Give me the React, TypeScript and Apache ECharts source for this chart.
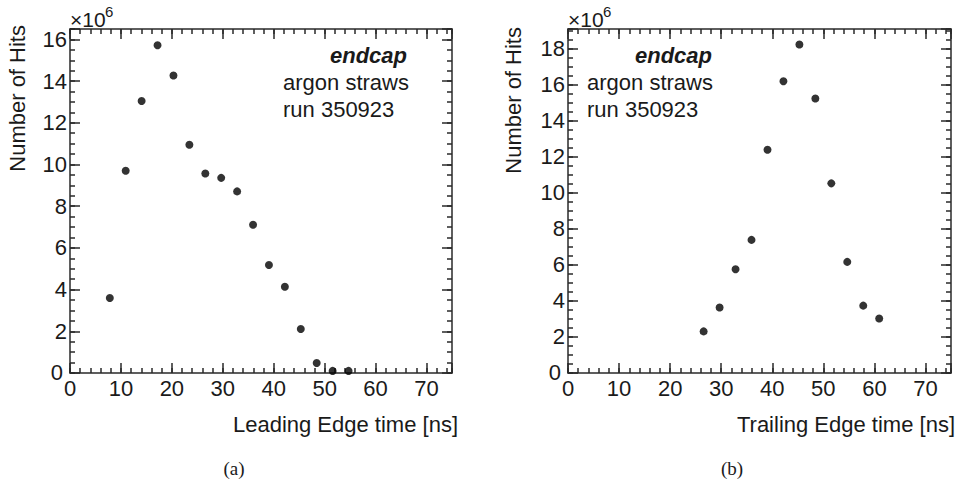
import React, { useEffect, useRef } from "react";
import * as echarts from "echarts";

// Leading edge time distribution (bin centres, ns) and hits (x10^6)
const leadingTime = [7.8125, 10.9375, 14.0625, 17.1875, 20.3125, 23.4375, 26.5625, 29.6875, 32.8125, 35.9375, 39.0625, 42.1875, 45.3125, 48.4375, 51.5625, 54.6875];
const leadingHits = [3.6, 9.7, 13.05, 15.72, 14.27, 10.95, 9.57, 9.36, 8.71, 7.11, 5.18, 4.14, 2.11, 0.48, 0.1, 0.1];

// Trailing edge time distribution
const trailingTime = [26.5625, 29.6875, 32.8125, 35.9375, 39.0625, 42.1875, 45.3125, 48.4375, 51.5625, 54.6875, 57.8125, 60.9375];
const trailingHits = [2.31, 3.64, 5.76, 7.39, 12.4, 16.2, 18.24, 15.24, 10.53, 6.17, 3.74, 3.03];

const xTicks = [0, 10, 20, 30, 40, 50, 60, 70];
const leftYTicks = [0, 2, 4, 6, 8, 10, 12, 14, 16];
const rightYTicks = [0, 2, 4, 6, 8, 10, 12, 14, 16, 18];

const X_MAX = 75;
const LEFT_Y_MAX = 16.5;
const RIGHT_Y_MAX = 19.1;

const FONT = '"Liberation Sans", Arial, Helvetica, sans-serif';
const INK = "#1a1a1a";
const LINE = "#2a2a2a";

function App() {
  const ref = useRef<HTMLDivElement>(null);

  useEffect(() => {
    if (!ref.current) return;
    const chart = echarts.init(ref.current, null, { renderer: "svg" });

    const lineStyle = { color: LINE, width: 1.5 };

    const makeX = (grid: number, position: "bottom" | "top", major: boolean) => ({
      gridIndex: grid,
      type: "value",
      min: 0,
      max: X_MAX,
      interval: major ? 10 : 2,
      position,
      axisLine: { show: major, onZero: false, lineStyle },
      axisTick: { show: true, inside: true, length: major ? 10 : 5, lineStyle },
      axisLabel: {
        show: major && position === "bottom",
        formatter: (v: number) => (xTicks.includes(v) ? String(v) : ""),
        fontSize: 22,
        lineHeight: 16,
        color: INK,
        fontFamily: FONT,
        margin: 7,
        showMaxLabel: true,
      },
      splitLine: { show: false },
    });

    const makeY = (grid: number, position: "left" | "right", major: boolean, max: number, ticks: number[]) => ({
      gridIndex: grid,
      type: "value",
      min: 0,
      max,
      interval: major ? 2 : 0.5,
      position,
      axisLine: { show: major, onZero: false, lineStyle },
      axisTick: { show: true, inside: true, length: major ? 10 : 5, lineStyle },
      axisLabel: {
        show: major && position === "left",
        formatter: (v: number) => (v === 0 ? "{z|0}" : ticks.includes(v) ? String(v) : ""),
        fontSize: 22,
        lineHeight: 12,
        color: INK,
        fontFamily: FONT,
        margin: 3,
        rich: {
          z: { fontSize: 22, lineHeight: 12, color: INK, fontFamily: FONT, padding: [0, 4, 2, 0] },
        },
      },
      splitLine: { show: false },
    });

    const xAxis = [
      makeX(0, "bottom", true),
      makeX(0, "bottom", false),
      makeX(0, "top", true),
      makeX(0, "top", false),
      makeX(1, "bottom", true),
      makeX(1, "bottom", false),
      makeX(1, "top", true),
      makeX(1, "top", false),
    ];
    const yAxis = [
      makeY(0, "left", true, LEFT_Y_MAX, leftYTicks),
      makeY(0, "left", false, LEFT_Y_MAX, leftYTicks),
      makeY(0, "right", true, LEFT_Y_MAX, leftYTicks),
      makeY(0, "right", false, LEFT_Y_MAX, leftYTicks),
      makeY(1, "left", true, RIGHT_Y_MAX, rightYTicks),
      makeY(1, "left", false, RIGHT_Y_MAX, rightYTicks),
      makeY(1, "right", true, RIGHT_Y_MAX, rightYTicks),
      makeY(1, "right", false, RIGHT_Y_MAX, rightYTicks),
    ];

    const txt = (text: string, x: number, y: number, opts: any = {}) => ({
      type: "text",
      x,
      y,
      rotation: opts.rotation || 0,
      style: {
        text,
        fill: INK,
        font: opts.font || `22px ${FONT}`,
        align: opts.align || "left",
        verticalAlign: opts.verticalAlign || "middle",
      },
    });

    const option = {
      animation: false,
      backgroundColor: "#fff",
      grid: [
        { left: 70, top: 29, width: 382, height: 344 },
        { left: 568, top: 29, width: 383, height: 344 },
      ],
      xAxis,
      yAxis,
      series: [
        {
          type: "scatter",
          xAxisIndex: 0,
          yAxisIndex: 0,
          symbol: "circle",
          symbolSize: 8,
          itemStyle: { color: "#000" },
          data: leadingTime.map((t, i) => [t, leadingHits[i]]),
        },
        {
          type: "scatter",
          xAxisIndex: 4,
          yAxisIndex: 4,
          symbol: "circle",
          symbolSize: 8,
          itemStyle: { color: "#000" },
          data: trailingTime.map((t, i) => [t, trailingHits[i]]),
        },
      ],
      graphic: [
        // left panel
        txt("Number of Hits", 17, 25, { rotation: Math.PI / 2, align: "right" }),
        txt("Leading Edge time [ns]", 458, 424, { align: "right" }),
        txt("×10", 70, 19, { font: `21px ${FONT}` }),
        txt("6", 105, 11, { font: `15px ${FONT}` }),
        txt("endcap", 407, 55, { align: "right", font: `italic bold 22px ${FONT}` }),
        txt("argon straws", 283, 82),
        txt("run 350923", 283, 109),
        txt("(a)", 234, 468, { align: "center", font: '19px "Liberation Serif", serif' }),
        // right panel
        txt("Number of Hits", 513, 27, { rotation: Math.PI / 2, align: "right" }),
        txt("Trailing Edge time [ns]", 955, 424, { align: "right" }),
        txt("×10", 568, 19, { font: `21px ${FONT}` }),
        txt("6", 603, 11, { font: `15px ${FONT}` }),
        txt("endcap", 712, 55, { align: "right", font: `italic bold 22px ${FONT}` }),
        txt("argon straws", 587, 82),
        txt("run 350923", 587, 109),
        txt("(b)", 732, 468, { align: "center", font: '19px "Liberation Serif", serif' }),
      ],
    };

    chart.setOption(option as any);
    return () => chart.dispose();
  }, []);

  return (
    <div
      ref={ref}
      style={{ position: "absolute", left: 0, top: 0, width: 965, height: 484 }}
    />
  );
}

export default App;
